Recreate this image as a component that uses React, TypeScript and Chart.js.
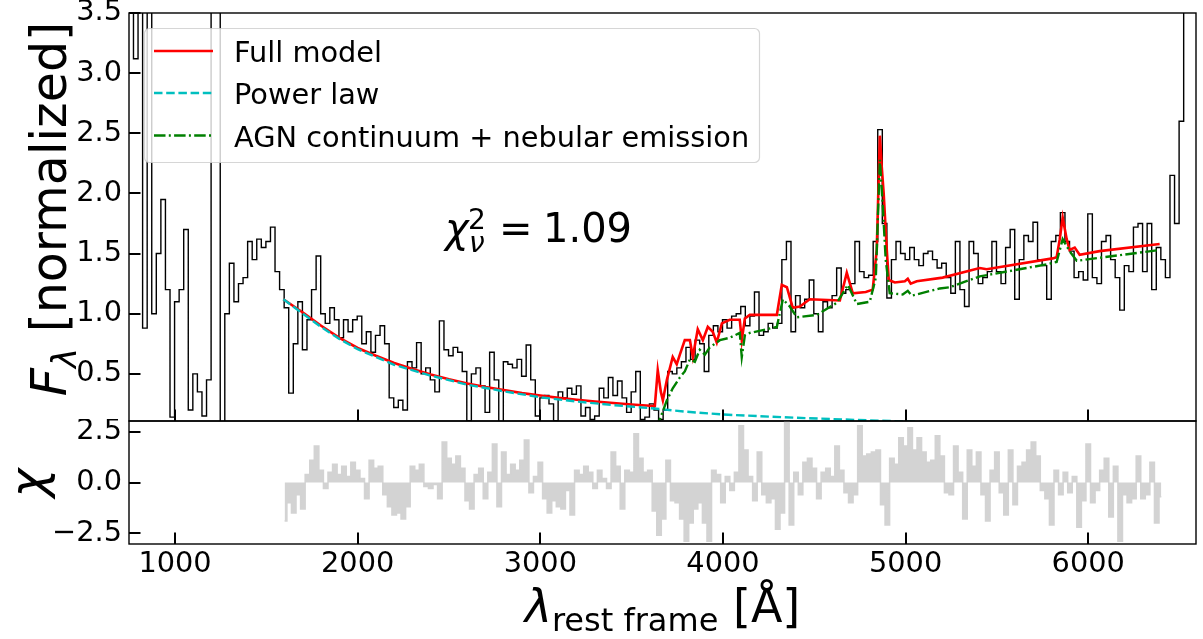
import React, { useEffect, useRef } from 'react';
import { Chart, registerables } from 'chart.js';

Chart.register(...registerables);

const FF = '"DejaVu Sans", "Liberation Sans", sans-serif';

// ---- axes ----
const X_MIN = 748;
const X_MAX = 6590;
const X_TICKS = [1000, 2000, 3000, 4000, 5000, 6000];
const Y_MIN_TOP = 0.108;
const Y_MAX_TOP = 3.5;
const Y_TICKS_TOP = [0.5, 1.0, 1.5, 2.0, 2.5, 3.0, 3.5];
const Y_MIN_BOT = -3.03;
const Y_MAX_BOT = 3.03;
const Y_TICKS_BOT = [-2.5, 0, 2.5];

// ---- observed spectrum (rest-frame grid, 25 A bins) ----
const SPEC_START = 760;
const SPEC_STEP = 25;
const specFlux = [
  3.8, 3.12, 3.9, 0.88, 3.7, 1.0, 1.5, 1.95, 1.2, 0.14,
  1.1, 1.2, 1.7, 0.2, 0.5, 0.35, 0.15, 0.45, 4.0, 3.9,
  0.1, 1.0, 1.42, 1.1, 1.25, 1.3, 1.6, 1.45, 1.62, 1.55,
  1.6, 1.72, 1.35, 1.2, 1.05, 0.34, 0.75, 1.1, 0.7, 0.95,
  1.2, 1.48, 1.0, 0.92, 1.05, 0.95, 0.8, 0.95, 0.85, 0.95,
  0.98, 0.75, 0.85, 0.68, 0.82, 0.9, 0.75, 0.3, 0.22, 0.28,
  0.2, 0.6, 0.55, 0.76, 0.5, 0.55, 0.45, 0.35, 0.94, 0.7,
  0.65, 0.72, 0.68, 0.52, 0.11, 0.5, 0.55, 0.4, 0.18, 0.68,
  0.45, 0.1, 0.6, 0.58, 0.55, 0.62, 0.48, 0.74, 0.45, 0.15,
  0.3, 0.32, 0.25, 0.11, 0.35, 0.3, 0.38, 0.33, 0.4, 0.15,
  0.22, 0.12, 0.15, 0.38, 0.3, 0.47, 0.32, 0.44, 0.3, 0.18,
  0.35, 0.52, 0.12, 0.14, 0.25, 0.2, 0.12, 0.2, 0.52, 0.5,
  0.55, 0.6, 0.72, 0.62, 0.78, 0.75, 0.52, 0.82, 0.9, 0.85,
  0.95, 0.88, 0.98, 1.0, 1.06, 0.9, 0.98, 1.18, 0.82, 0.85,
  0.92, 0.88, 0.92, 1.45, 1.6, 0.85, 1.15, 1.05, 1.12, 1.28,
  1.0, 0.85, 1.1, 1.05, 1.15, 1.38, 1.17, 1.2, 1.25, 1.6,
  1.35, 1.3, 1.32, 1.6, 2.53, 1.75, 1.13, 1.45, 1.6, 1.5,
  1.45, 1.55, 1.45, 1.4, 1.5, 1.52, 1.45, 1.38, 1.42, 1.3,
  1.17, 1.6, 1.2, 1.06, 1.6, 1.5, 1.25, 1.3, 1.35, 1.6,
  1.35, 1.25, 1.55, 1.7, 1.12, 1.45, 1.65, 1.6, 1.76, 1.45,
  1.4, 1.12, 1.6, 1.65, 1.84, 1.6, 1.52, 1.3, 1.35, 1.28,
  1.83, 1.3, 1.25, 1.6, 1.65, 1.45, 1.3, 1.03, 1.4, 1.35,
  1.72, 1.75, 1.35, 1.75, 1.2, 1.55, 1.45, 1.3, 2.15, 1.75,
  2.6, 3.8, 4.2,
];

// ---- model components ----
const fullWave = [
  1593, 1700, 1800, 1900, 2000, 2100, 2200, 2300, 2400, 2500,
  2600, 2700, 2800, 2900, 3000, 3100, 3200, 3300, 3400, 3500,
  3600, 3627, 3643, 3660, 3671, 3693, 3725, 3747, 3764, 3791,
  3819, 3835, 3862, 3890, 3917, 3944, 3966, 3994, 4037, 4092,
  4103, 4120, 4147, 4295, 4322, 4350, 4382, 4421, 4475, 4640,
  4678, 4711, 4782, 4820, 4842, 4859, 4869, 4880, 4897, 4908,
  4941, 4996, 5012, 5028, 5061, 5203, 5406, 5444, 5805, 5827,
  5844, 5860, 5882, 5898, 5926, 5953, 6062, 6391,
];
const fullFlux = [
  1.12, 1.01, 0.9, 0.8, 0.715, 0.65, 0.59, 0.54, 0.495, 0.455,
  0.42, 0.39, 0.365, 0.34, 0.32, 0.3, 0.285, 0.27, 0.257, 0.245,
  0.235, 0.232, 0.53, 0.35, 0.28, 0.45, 0.64, 0.58, 0.66, 0.78,
  0.78, 0.64, 0.87, 0.78, 0.89, 0.85, 0.76, 0.92, 0.95, 0.95,
  0.78, 0.96, 0.99, 0.99, 1.24, 1.22, 1.05, 1.06, 1.12, 1.11,
  1.34, 1.17, 1.18, 1.2, 1.53, 2.48, 2.23, 2.0, 1.53, 1.28,
  1.26, 1.27, 1.29, 1.25, 1.27, 1.3, 1.38, 1.37, 1.46, 1.47,
  1.62, 1.8, 1.62, 1.53, 1.55, 1.49, 1.52, 1.58,
];

const powWave = [
  1593, 1700, 1800, 1900, 2000, 2200, 2400, 2600, 2800, 3000,
  3200, 3400, 3600, 3800, 4000, 4200, 4400, 4600, 4800, 5000,
  5200, 5600, 6000, 6391,
];
const powFlux = [
  1.12, 1.0, 0.89, 0.79, 0.705, 0.575, 0.485, 0.41, 0.355, 0.305,
  0.27, 0.24, 0.215, 0.185, 0.162, 0.148, 0.135, 0.124, 0.113, 0.104,
  0.096, 0.085, 0.076, 0.068,
];

const agnWave = [
  3627, 3654, 3693, 3725, 3764, 3791, 3819, 3846, 3873, 3901,
  3928, 3983, 4037, 4092, 4103, 4120, 4147, 4295, 4328, 4366,
  4405, 4514, 4623, 4684, 4733, 4804, 4837, 4859, 4875, 4891,
  4913, 4984, 5012, 5034, 5187, 5242, 5406, 5772, 5827, 5860,
  5898, 5937, 6391,
];
const agnFlux = [
  0.05, 0.12, 0.28, 0.38, 0.47, 0.52, 0.62, 0.6, 0.7, 0.66,
  0.72, 0.78, 0.8, 0.84, 0.64, 0.82, 0.84, 0.89, 1.12, 1.06,
  0.97, 0.99, 1.09, 1.24, 1.08, 1.1, 1.3, 2.28, 1.9, 1.45,
  1.17, 1.16, 1.19, 1.15, 1.21, 1.22, 1.31, 1.41, 1.43, 1.62,
  1.52, 1.44, 1.53,
];

// ---- residuals (chi) ----
const CHI_START = 1600;
const CHI_STEP = 25;
const chiValues = [
  -1.9, -1.0, -1.5, -0.6, -1.3, 0.4, 1.1, 1.8, 0.6, -0.3,
  0.5, 0.9, 0.4, 0.8, 0.3, 1.0, 0.6, 0.2, -0.8, 1.1,
  0.7, 0.8, -0.6, -1.2, -1.6, -1.5, -1.8, -1.2, 0.8, 0.6,
  0.9, -0.2, -0.3, -0.1, -0.8, 2.0, 1.2, 0.9, 1.3, 0.7,
  -0.9, -1.3, 0.4, 0.7, -0.8, 0.5, 1.9, -1.2, 1.5, 0.4,
  0.9, 0.6, 1.1, 2.1, -0.5, 0.3, 1.0, -0.8, -1.5, -0.9,
  -1.2, -1.3, -0.4, -1.6, 0.6, 0.4, 0.8, 0.5, -0.3, 0.6,
  0.2, -0.3, 1.5, 0.8, -1.3, 0.6, 0.5, 2.4, 1.2, 0.5,
  0.6, -1.4, -2.6, -1.8, 1.1, -0.9, -1.0, -1.8, -2.9, -2.0,
  -1.3, -1.0, -2.0, -2.9, 0.6, 0.4, -1.0, 0.3, -0.4, 0.5,
  2.8, 1.6, 0.3, -0.9, 1.5, -0.6, -1.0, -0.8, -2.3, -1.5,
  3.0, -2.1, 0.5, -0.6, 1.0, 1.2, 0.7, -0.8, 0.5, 0.7,
  0.3, 1.8, 0.6, -0.5, -1.0, -0.6, 2.8, 1.3, 1.4, 1.5,
  1.6, -1.1, -2.1, 1.2, 0.9, 2.2, 1.8, 2.7, 1.6, 2.2,
  1.5, 1.0, 1.1, 2.3, 1.3, -0.5, -0.6, 1.8, 0.5, -1.8,
  1.6, 0.8, 1.5, -0.6, -1.9, 0.6, 1.5, -0.5, -1.6, 1.6,
  -1.1, 0.8, 1.0, 1.6, 2.0, 1.3, -0.4, -0.8, -2.1, 0.6,
  -0.6, 0.5, -0.5, 0.3, -2.2, -0.9, 1.9, -1.0, -0.4, 0.6,
  1.2, -1.7, 0.8, -2.9, -0.6, -1.0, -0.8, 1.3, -0.8, -0.6,
  1.0, -2.0, -0.7,
];

const LEGEND_LABELS = ['Full model', 'Power law', 'AGN continuum + nebular emission'];

type Part = { t: string; f: string; dy: number };

function drawRich(ctx: CanvasRenderingContext2D, parts: Part[], cx: number, cy: number, rotate: boolean) {
  ctx.save();
  ctx.translate(cx, cy);
  if (rotate) ctx.rotate(-Math.PI / 2);
  ctx.textAlign = 'left';
  ctx.textBaseline = 'alphabetic';
  ctx.fillStyle = '#000';
  const widths = parts.map((p) => {
    ctx.font = p.f;
    return ctx.measureText(p.t).width;
  });
  const total = widths.reduce((a, b) => a + b, 0);
  let x = -total / 2;
  parts.forEach((p, i) => {
    ctx.font = p.f;
    ctx.fillText(p.t, x, p.dy);
    x += widths[i];
  });
  ctx.restore();
}

function drawFrameAndTicks(chart: any, xTicks: number[], yTicks: number[]) {
  const ctx: CanvasRenderingContext2D = chart.ctx;
  const a = chart.chartArea;
  const xs = chart.scales.x;
  const ys = chart.scales.y;
  ctx.save();
  ctx.strokeStyle = '#000';
  ctx.lineWidth = 2;
  const TL = 11.5;
  xTicks.forEach((v) => {
    const px = Math.round(xs.getPixelForValue(v));
    ctx.beginPath();
    ctx.moveTo(px, a.bottom);
    ctx.lineTo(px, a.bottom - TL);
    ctx.stroke();
  });
  yTicks.forEach((v) => {
    const py = Math.round(ys.getPixelForValue(v));
    ctx.beginPath();
    ctx.moveTo(a.left, py);
    ctx.lineTo(a.left + TL, py);
    ctx.stroke();
  });
  ctx.lineWidth = 1.4;
  ctx.strokeRect(a.left, a.top, a.right - a.left, a.bottom - a.top);
  ctx.restore();
}

const topDecor = {
  id: 'topDecor',
  afterDraw(chart: any) {
    const ctx: CanvasRenderingContext2D = chart.ctx;
    drawFrameAndTicks(chart, X_TICKS, Y_TICKS_TOP);

    // legend
    ctx.save();
    ctx.beginPath();
    (ctx as any).roundRect(144.5, 28.5, 615, 134, 5);
    ctx.fillStyle = 'rgba(255,255,255,0.8)';
    ctx.fill();
    ctx.strokeStyle = 'rgba(204,204,204,0.8)';
    ctx.lineWidth = 1.2;
    ctx.stroke();
    const entries = [
      { c: '#ff0000', d: [] as number[], y: 51 },
      { c: '#00bfbf', d: [8.5, 3.7], y: 93 },
      { c: '#008000', d: [11.5, 3.3, 2, 3.3], y: 135.5 },
    ];
    entries.forEach((e, i) => {
      ctx.beginPath();
      ctx.setLineDash(e.d);
      ctx.strokeStyle = e.c;
      ctx.lineWidth = 2.4;
      ctx.moveTo(154, e.y);
      ctx.lineTo(213, e.y);
      ctx.stroke();
      ctx.setLineDash([]);
      ctx.fillStyle = '#000';
      ctx.font = `28.8px ${FF}`;
      ctx.textAlign = 'left';
      ctx.textBaseline = 'alphabetic';
      ctx.fillText(LEGEND_LABELS[i], 234, e.y + 11);
    });
    ctx.restore();

    // reduced chi-square annotation
    ctx.save();
    ctx.fillStyle = '#000';
    ctx.textAlign = 'left';
    ctx.textBaseline = 'alphabetic';
    ctx.font = `italic 40px ${FF}`;
    ctx.fillText('χ', 445, 242);
    ctx.font = `28px ${FF}`;
    ctx.fillText('2', 468, 229);
    ctx.font = `italic 28px ${FF}`;
    ctx.fillText('ν', 469, 252);
    ctx.font = `40px ${FF}`;
    ctx.fillText('=', 499, 242);
    ctx.fillText('1.09', 543, 242);
    ctx.restore();

    // y label
    drawRich(
      ctx,
      [
        { t: 'F', f: `italic 49px ${FF}`, dy: 0 },
        { t: 'λ', f: `italic 34px ${FF}`, dy: 10 },
        { t: ' [normalized]', f: `49px ${FF}`, dy: 0 },
      ],
      66,
      209,
      true
    );
  },
};

const botDecor = {
  id: 'botDecor',
  afterDraw(chart: any) {
    const ctx: CanvasRenderingContext2D = chart.ctx;
    drawFrameAndTicks(chart, X_TICKS, Y_TICKS_BOT);
    drawRich(ctx, [{ t: 'χ', f: `italic 49px ${FF}`, dy: 0 }], 45, 64, true);
    drawRich(
      ctx,
      [
        { t: 'λ', f: `italic 46px ${FF}`, dy: 0 },
        { t: 'rest frame', f: `32px ${FF}`, dy: 9 },
        { t: ' [Å]', f: `46px ${FF}`, dy: 0 },
      ],
      662.5,
      203,
      false
    );
  },
};

const pts = (xs: number[], ys: number[]) => xs.map((x, i) => ({ x, y: ys[i] }));

const fixY = (s: any) => {
  s.width = 129;
  s.paddingTop = 0;
  s.paddingBottom = 0;
};

export default function App() {
  const topRef = useRef<HTMLCanvasElement>(null);
  const botRef = useRef<HTMLCanvasElement>(null);

  useEffect(() => {
    const specData = specFlux.map((y, i) => ({ x: SPEC_START + i * SPEC_STEP, y }));
    const chiData = chiValues.map((y, i) => ({ x: CHI_START + i * CHI_STEP, y }));
    const tickFont = { family: FF, size: 28.8 };

    const top = new Chart(topRef.current as HTMLCanvasElement, {
      type: 'line',
      data: {
        datasets: [
          {
            label: LEGEND_LABELS[2],
            data: pts(agnWave, agnFlux),
            borderColor: '#008000',
            borderWidth: 2.4,
            borderDash: [11.5, 3.3, 2, 3.3],
            pointRadius: 0,
            fill: false,
            clip: 0,
          },
          {
            label: LEGEND_LABELS[1],
            data: pts(powWave, powFlux),
            borderColor: '#00bfbf',
            borderWidth: 2.4,
            borderDash: [8.5, 3.7],
            pointRadius: 0,
            fill: false,
            clip: 0,
          },
          {
            label: LEGEND_LABELS[0],
            data: pts(fullWave, fullFlux),
            borderColor: '#ff0000',
            borderWidth: 2.6,
            pointRadius: 0,
            fill: false,
            clip: 0,
          },
          {
            label: 'Spectrum',
            data: specData,
            borderColor: '#000000',
            borderWidth: 1.4,
            stepped: 'middle',
            pointRadius: 0,
            fill: false,
            clip: 0,
          },
        ],
      } as any,
      options: {
        animation: false,
        responsive: false,
        devicePixelRatio: 1,
        events: [],
        layout: { padding: { top: 13, right: 7, bottom: 2, left: 0 } },
        plugins: { legend: { display: false }, tooltip: { enabled: false } },
        scales: {
          x: { type: 'linear', min: X_MIN, max: X_MAX, display: false },
          y: {
            type: 'linear',
            min: Y_MIN_TOP,
            max: Y_MAX_TOP,
            afterFit: fixY,
            afterBuildTicks: (s: any) => {
              s.ticks = Y_TICKS_TOP.map((v) => ({ value: v }));
            },
            grid: { display: false, drawTicks: false },
            border: { display: false },
            ticks: {
              font: tickFont,
              color: '#000',
              padding: 7,
              callback: (v: any) => Number(v).toFixed(1),
            },
          },
        },
      } as any,
      plugins: [topDecor],
    });

    const bot = new Chart(botRef.current as HTMLCanvasElement, {
      type: 'line',
      data: {
        datasets: [
          {
            label: 'χ',
            data: chiData,
            borderColor: '#d3d3d3',
            backgroundColor: '#d3d3d3',
            borderWidth: 1.5,
            stepped: 'middle',
            pointRadius: 0,
            fill: 'origin',
            clip: 0,
          },
        ],
      } as any,
      options: {
        animation: false,
        responsive: false,
        devicePixelRatio: 1,
        events: [],
        layout: { padding: { top: 2, right: 7, bottom: 0, left: 0 } },
        plugins: { legend: { display: false }, tooltip: { enabled: false } },
        scales: {
          x: {
            type: 'linear',
            min: X_MIN,
            max: X_MAX,
            afterFit: (s: any) => {
              s.height = 95;
              s.paddingLeft = 0;
              s.paddingRight = 0;
            },
            afterBuildTicks: (s: any) => {
              s.ticks = X_TICKS.map((v) => ({ value: v }));
            },
            grid: { display: false, drawTicks: false },
            border: { display: false },
            ticks: {
              font: tickFont,
              color: '#000',
              padding: 3,
              maxRotation: 0,
              autoSkip: false,
              callback: (v: any) => String(v),
            },
          },
          y: {
            type: 'linear',
            min: Y_MIN_BOT,
            max: Y_MAX_BOT,
            afterFit: fixY,
            afterBuildTicks: (s: any) => {
              s.ticks = Y_TICKS_BOT.map((v) => ({ value: v }));
            },
            grid: { display: false, drawTicks: false },
            border: { display: false },
            ticks: {
              font: tickFont,
              color: '#000',
              padding: 7,
              callback: (v: any) => {
                const n = Number(v);
                return n < 0 ? '\u2212' + Math.abs(n).toFixed(1) : n.toFixed(1);
              },
            },
          },
        },
      } as any,
      plugins: [botDecor],
    });

    return () => {
      top.destroy();
      bot.destroy();
    };
  }, []);

  return (
    <div style={{ position: 'absolute', left: 0, top: 0, width: 1203, height: 639, background: '#ffffff' }}>
      <canvas
        ref={topRef}
        width={1203}
        height={423}
        style={{ position: 'absolute', left: 0, top: 0, width: 1203, height: 423 }}
      />
      <canvas
        ref={botRef}
        width={1203}
        height={220}
        style={{ position: 'absolute', left: 0, top: 419, width: 1203, height: 220 }}
      />
    </div>
  );
}
